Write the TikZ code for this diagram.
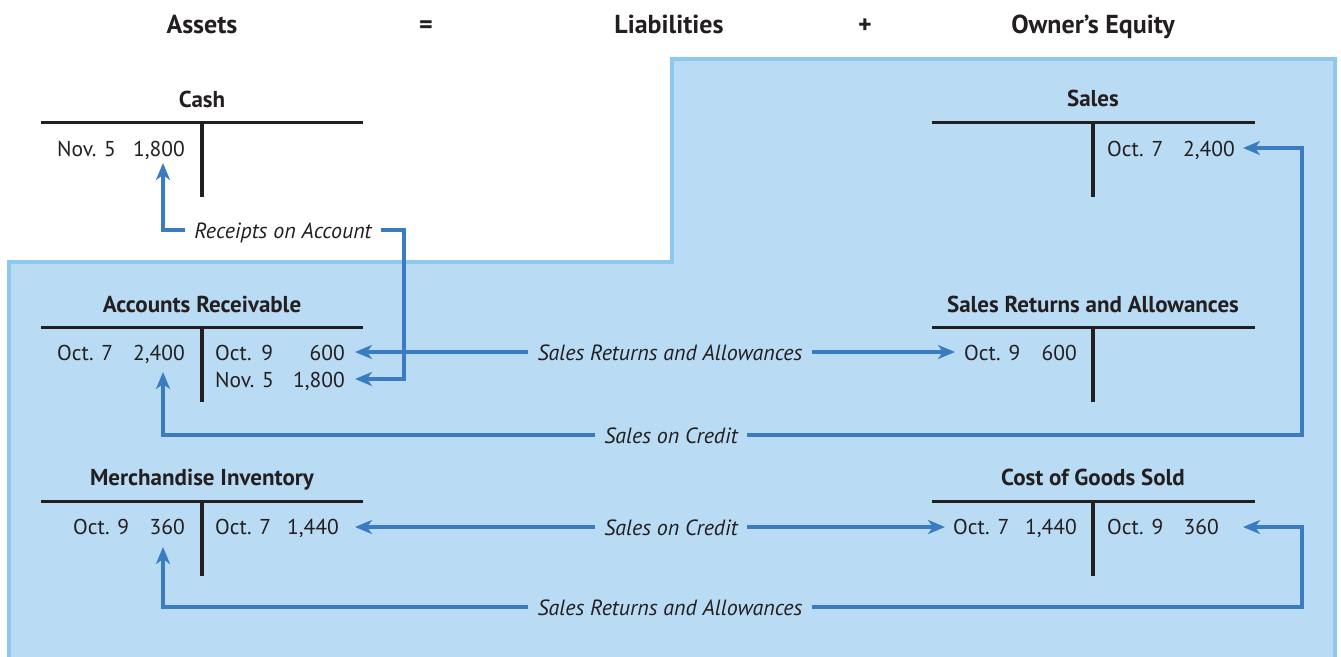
\documentclass[tikz,border=0pt]{standalone}
\usepackage{fontspec}
\setmainfont{PT Sans}
\usetikzlibrary{arrows.meta}
\definecolor{panelfill}{HTML}{B9DBF3}
\definecolor{paneledge}{HTML}{8DC9EF}
\definecolor{flowblue}{HTML}{3A7BC1}
\definecolor{ink}{HTML}{231F20}
\begin{document}
\begin{tikzpicture}[x=1pt,y=-1pt,
  every node/.style={inner sep=0pt, text=ink},
  head/.style={font=\fontsize{26}{30}\selectfont\bfseries, anchor=base},
  title/.style={font=\fontsize{23}{27}\selectfont\bfseries, anchor=base},
  date/.style={font=\fontsize{21.5}{25}\selectfont, anchor=base west},
  amount/.style={font=\fontsize{21.5}{25}\selectfont, anchor=base east},
  tline/.style={line width=3.5pt, draw=ink},
  flowlabel/.style={font=\fontsize{22}{26}\selectfont\itshape, inner xsep=9pt,
                    text height=16pt, text depth=0pt},
  flow/.style={line width=3.5pt, draw=flowblue,
               -{Stealth[length=17pt,width=14pt,inset=5pt]}}]
\useasboundingbox (0,0) rectangle (1341,656);

% shaded panel behind the income-statement accounts
\fill[panelfill] (9,660) -- (9,261.5) -- (671.5,261.5) -- (671.5,58.5)
  -- (1335,58.5) -- (1335,660) -- cycle;
\draw[paneledge, line width=4pt] (9,660) -- (9,261.5) -- (671.5,261.5)
  -- (671.5,58.5) -- (1335,58.5) -- (1335,660);

% equation header
\node[head] (assets) at (202,33) {Assets};
\node[head] (eq) at (426,33) {=};
\node[head] (liab) at (669,33) {Liabilities};
\node[head] (plus) at (865,33) {+};
\node[head] (equity) at (1093,33) {Owner’s Equity};

% T-account: Cash
\node[title] (cashT) at (202,107) {Cash};
\draw[tline] (41,122.5) -- (363,122.5);
\draw[tline] (202,122.5) -- (202,197);
\node[date] (cashD1) at (57,156) {Nov. 5};
\node[amount] (cashA1) at (185,156) {1,800};

% T-account: Sales
\node[title] (salesT) at (1093,106) {Sales};
\draw[tline] (932,122.5) -- (1255,122.5);
\draw[tline] (1093,122.5) -- (1093,197);
\node[date] (salesD1) at (1107,156) {Oct. 7};
\node[amount] (salesA1) at (1235,156) {2,400};

% T-account: Accounts Receivable
\node[title] (arT) at (202,312) {Accounts Receivable};
\draw[tline] (41,327.5) -- (363,327.5);
\draw[tline] (202,327.5) -- (202,402);
\node[date] (arD1) at (57,360) {Oct. 7};
\node[amount] (arA1) at (185,360) {2,400};
\node[date] (arD2) at (215,360) {Oct.\hspace{0.45em}9};
\node[amount] (arA2) at (345,360) {600};
\node[date] (arD3) at (215,387) {Nov. 5};
\node[amount] (arA3) at (345,387) {1,800};

% T-account: Sales Returns and Allowances
\node[title] (sraT) at (1093,312) {Sales Returns and Allowances};
\draw[tline] (932,327.5) -- (1255,327.5);
\draw[tline] (1093,327.5) -- (1093,402);
\node[date] (sraD1) at (964,360) {Oct. 9};
\node[amount] (sraA1) at (1077,360) {600};

% T-account: Merchandise Inventory
\node[title] (miT) at (202,485) {Merchandise Inventory};
\draw[tline] (41,501.5) -- (363,501.5);
\draw[tline] (202,501.5) -- (202,576);
\node[date] (miD1) at (73,534) {Oct. 9};
\node[amount] (miA1) at (185,534) {360};
\node[date] (miD2) at (215,534) {Oct. 7};
\node[amount] (miA2) at (339,534) {1,440};

% T-account: Cost of Goods Sold
\node[title] (cogsT) at (1093,485) {Cost of Goods Sold};
\draw[tline] (932,501.5) -- (1255,501.5);
\draw[tline] (1093,501.5) -- (1093,576);
\node[date] (cogsD1) at (953,534) {Oct. 7};
\node[amount] (cogsA1) at (1077,534) {1,440};
\node[date] (cogsD2) at (1107,534) {Oct. 9};
\node[amount] (cogsA2) at (1219,534) {360};

% transaction labels
\node[flowlabel] (recLbl) at (283,230) {Receipts on Account};
\node[flowlabel] (sraLbl) at (670,352) {Sales Returns and Allowances};
\node[flowlabel] (socLbl) at (671,435) {Sales on Credit};
\node[flowlabel] (socLbl2) at (671,527) {Sales on Credit};
\node[flowlabel] (sraLbl2) at (670,607) {Sales Returns and Allowances};

% arrow tips and corners
\coordinate (tipCash) at (163,163);
\coordinate (recCorner) at (404,379);
\coordinate (tipArNov) at (355,379);
\coordinate (tipArOct9) at (355,352);
\coordinate (tipSra) at (955,352);
\coordinate (tipAr2400) at (163,372);
\coordinate (socCorner) at (1302,148);
\coordinate (tipSales) at (1243,148);
\coordinate (tipMi) at (355,527);
\coordinate (tipCogsDr) at (945,527);
\coordinate (tipMi360) at (163,547);
\coordinate (sraCorner) at (1302,527);
\coordinate (tipCogsCr) at (1243,527);

% collection on account
\draw[flow] (recLbl.west) -| (tipCash);
\draw[flow] (recLbl.east) -| (recCorner) -- (tipArNov);
% return of goods sold on credit
\draw[flow] (sraLbl.west) -- (tipArOct9);
\draw[flow] (sraLbl.east) -- (tipSra);
% sale on credit
\draw[flow] (socLbl.west) -| (tipAr2400);
\draw[flow] (socLbl.east) -| (socCorner) -- (tipSales);
% cost of the goods sold
\draw[flow] (socLbl2.west) -- (tipMi);
\draw[flow] (socLbl2.east) -- (tipCogsDr);
% cost of the returned goods
\draw[flow] (sraLbl2.west) -| (tipMi360);
\draw[flow] (sraLbl2.east) -| (sraCorner) -- (tipCogsCr);
\end{tikzpicture}
\end{document}
